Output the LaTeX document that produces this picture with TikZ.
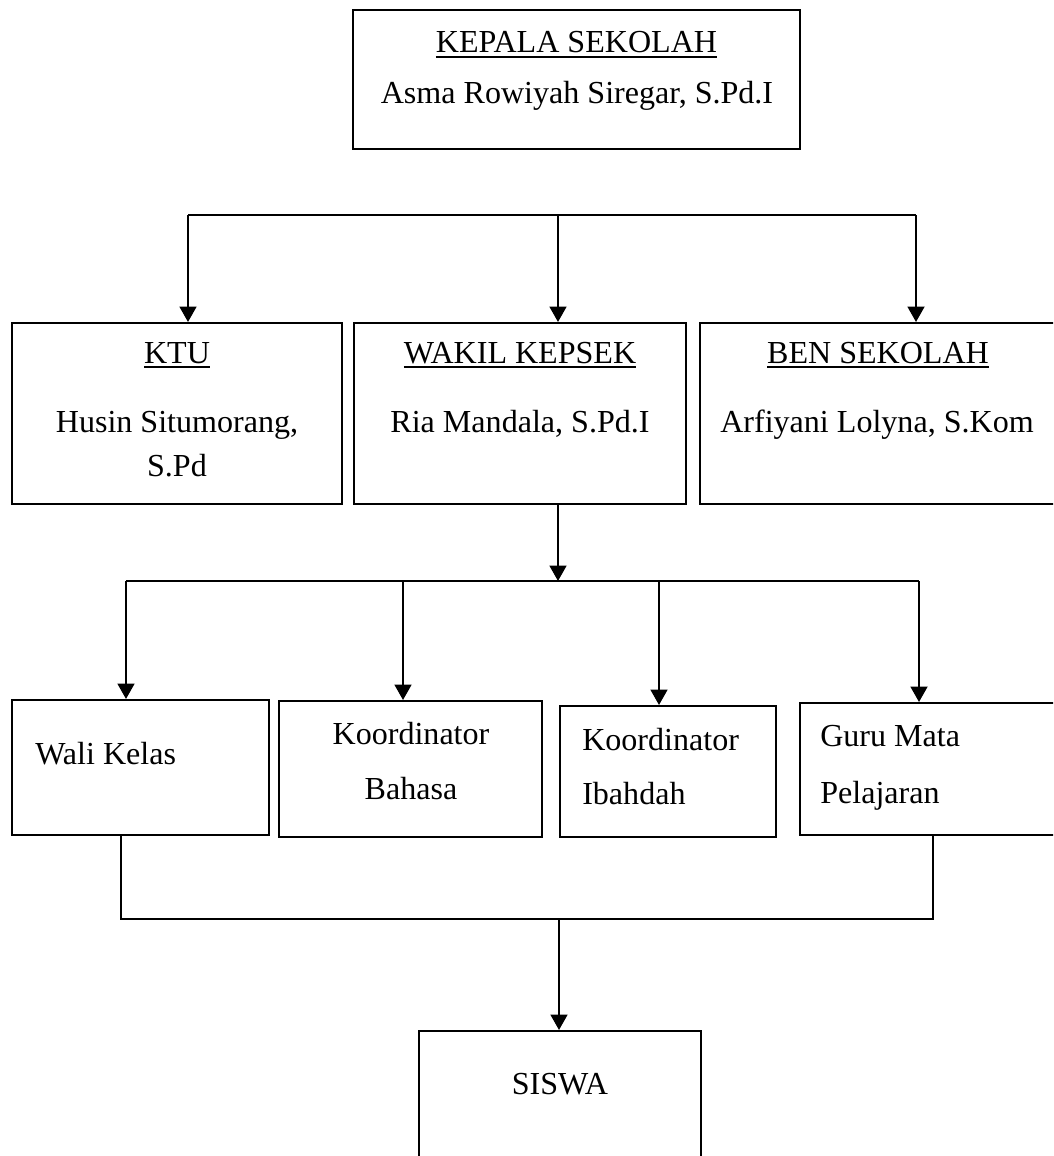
\documentclass[tikz,border=0pt]{standalone}
\usepackage{fontspec}
\setmainfont{Liberation Serif}
\usetikzlibrary{arrows.meta}
\usetikzlibrary{positioning}
% underlined heading with a thicker rule
\newcommand{\ulbox}[1]{\setbox0\hbox{#1}\rlap{\copy0}\rule[-3.6pt]{\wd0}{1.4pt}}

\begin{document}
\begin{tikzpicture}[
    x=0.025cm, y=-0.025cm,
    box/.style={rectangle, draw=black, line width=1.4pt, inner sep=0pt},
    txt/.style={font=\fontsize{22.8}{27}\selectfont, inner sep=0pt, anchor=base},
    ltxt/.style={txt, anchor=base west},
    bus/.style={line width=1.5pt},
    arr/.style={line width=1.6pt, -{Triangle[length=11pt, width=12pt]}}
]
    \useasboundingbox (0,0) rectangle (1053,1156);
    \clip (0,0) rectangle (1053,1156);

    % Kepala sekolah
    \node at (576.5, 79.5) [box, minimum width=11.175cm, minimum height=3.475cm](kepsek){};
    \node at (576.5, 53) [txt]{\ulbox{KEPALA SEKOLAH}};
    \node at (577, 104) [txt]{Asma Rowiyah Siregar, S.Pd.I};

    % - Second level
    \node at (177, 413.5) [box, minimum width=8.25cm, minimum height=4.525cm](ktu){};
    \node at (520, 413.5) [box, minimum width=8.3cm, minimum height=4.525cm](wakil){};
    \node at (885, 413.5) [box, minimum width=9.25cm, minimum height=4.525cm](bendahara){};
    \node at (177, 363) [txt]{\ulbox{KTU}};
    \node at (177, 432) [txt]{Husin Situmorang,};
    \node at (177, 476) [txt]{S.Pd};
    \node at (520, 363) [txt]{\ulbox{WAKIL KEPSEK}};
    \node at (520, 432) [txt]{Ria Mandala, S.Pd.I};
    \node at (878, 363) [txt]{\ulbox{BEN SEKOLAH}};
    \node at (877, 432) [txt]{Arfiyani Lolyna, S.Kom};

    % -- Branches to the second level
    \coordinate (top_L) at (188, 215);
    \coordinate (top_M) at (558, 215);
    \coordinate (top_R) at (916, 215);
    \draw [bus] (top_L) -- (top_R);
    \draw [arr] (top_L) -- (top_L |- ktu.north);
    \draw [arr] (top_M) -- (top_M |- wakil.north);
    \draw [arr] (top_R) -- (top_R |- bendahara.north);

    % - Third level
    \node at (140.5, 767.5) [box, minimum width=6.4cm, minimum height=3.375cm](walikelas){};
    \node at (410.5, 769) [box, minimum width=6.575cm, minimum height=3.4cm](korbahasa){};
    \node at (668, 771.5) [box, minimum width=5.4cm, minimum height=3.275cm](koribadah){};
    \node at (935, 769) [box, minimum width=6.75cm, minimum height=3.3cm](gurumapel){};
    \node at (35, 764) [ltxt]{Wali Kelas};
    \node at (411, 744) [txt]{Koordinator};
    \node at (411, 799) [txt]{Bahasa};
    \node at (582, 750) [ltxt]{Koordinator};
    \node at (582, 804) [ltxt]{Ibahdah};
    \node at (820, 746) [ltxt]{Guru Mata};
    \node at (820, 803) [ltxt]{Pelajaran};

    % -- Branches to the third level
    \coordinate (mid_A) at (126, 581);
    \coordinate (mid_B) at (403, 581);
    \coordinate (mid_C) at (659, 581);
    \coordinate (mid_D) at (919, 581);
    \draw [arr] (wakil.south -| 558, 0) -- (558, 581);
    \draw [bus] (mid_A) -- (mid_D);
    \draw [arr] (mid_A) -- (mid_A |- walikelas.north);
    \draw [arr] (mid_B) -- (mid_B |- korbahasa.north);
    \draw [arr] (mid_C) -- (mid_C |- koribadah.north);
    \draw [arr] (mid_D) -- (mid_D |- gurumapel.north);

    % - Siswa
    \node at (560, 1101) [box, minimum width=7.05cm, minimum height=3.5cm](siswa){};
    \node at (560, 1094) [txt]{SISWA};
    \coordinate (low_L) at (121, 919);
    \coordinate (low_M) at (559, 919);
    \coordinate (low_R) at (933, 919);
    \draw [line width=1.2pt] (low_L |- walikelas.south) -- (low_L) -- (low_R) -- (low_R |- gurumapel.south);
    \draw [arr] (low_M) -- (low_M |- siswa.north);

\end{tikzpicture}
\end{document}
